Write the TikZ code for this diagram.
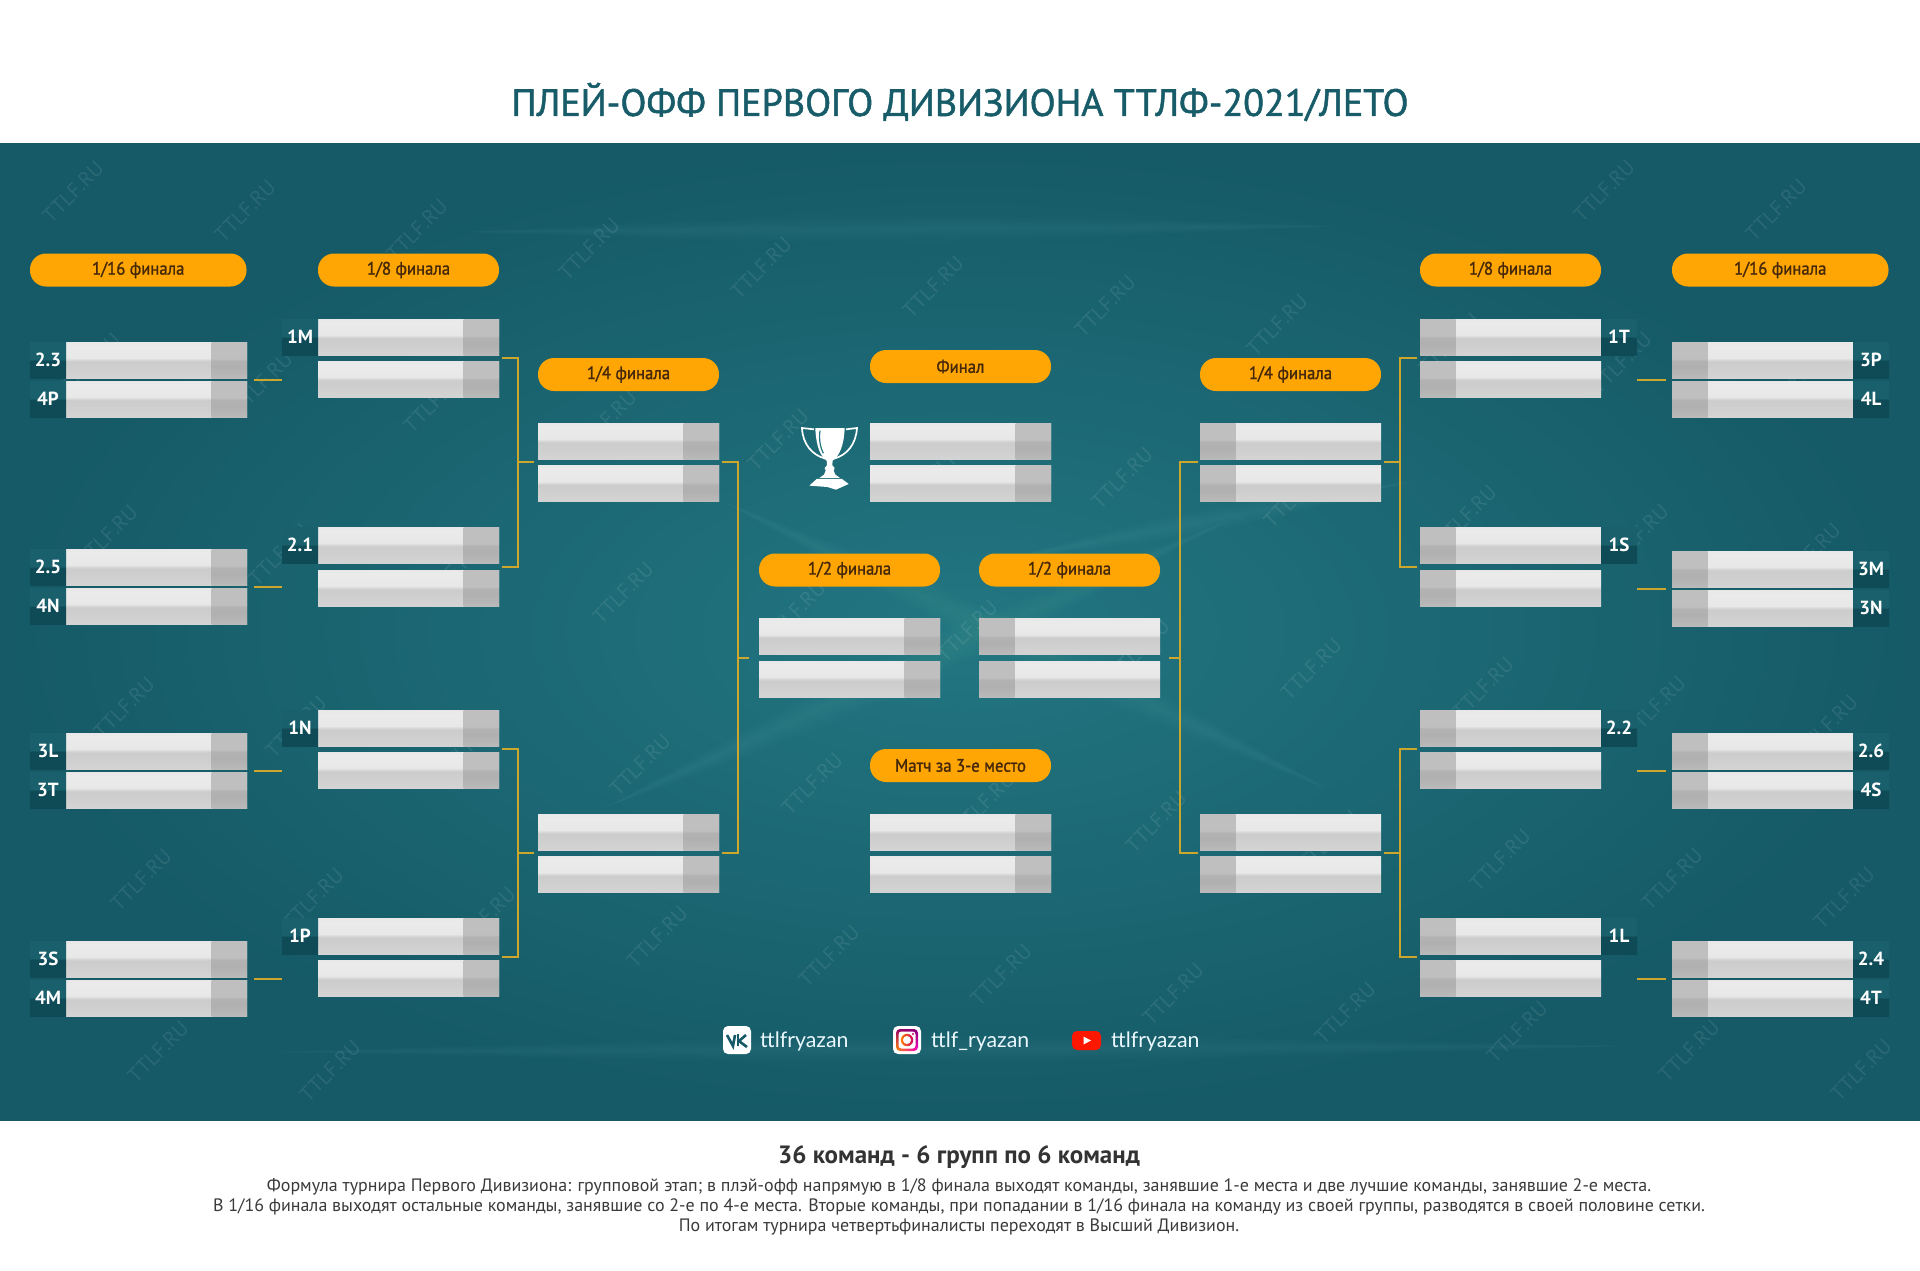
\documentclass[tikz,border=0pt]{standalone}
\usepackage{fontspec}
\setmainfont{PT Sans}
\newfontfamily\lato{Lato}
\newfontfamily\medfont[FakeBold=1.3]{PT Sans}
\newfontfamily\pillfont[FakeBold=1.3,FakeStretch=0.93]{PT Sans}
\usetikzlibrary{calc,shadings}
\definecolor{bandedge}{HTML}{155A66}
\definecolor{bandmid}{HTML}{227682}
\definecolor{titlecol}{HTML}{175C68}
\definecolor{pillcol}{HTML}{FFA504}
\definecolor{pilltext}{HTML}{45280A}
\definecolor{linkcol}{HTML}{CDA62C}
\definecolor{bodytext}{HTML}{3A3A3A}
\pgfdeclareverticalshading{teamshade}{100bp}{color(0bp)=(black!17); color(25bp)=(black!17); color(40bp)=(black!19); color(48bp)=(black!20); color(53bp)=(black!9); color(70bp)=(black!8); color(75bp)=(black!9); color(100bp)=(black!9)}
\pgfdeclareverticalshading{scoreshade}{100bp}{color(0bp)=(black!27); color(25bp)=(black!27); color(40bp)=(black!31); color(49bp)=(black!30); color(52bp)=(black!25); color(75bp)=(black!25); color(100bp)=(black!25)}
\definecolor{tagtop}{HTML}{1A606C}
\definecolor{tagbot}{HTML}{0E4B57}
\pgfdeclareverticalshading{tagshade}{100bp}{color(0bp)=(tagbot); color(49.5bp)=(tagbot); color(50.5bp)=(tagtop); color(100bp)=(tagtop)}
\tikzset{
  x=1pt,y=-1pt,
  teambox/.style={anchor=north west,inner sep=0pt,outer sep=0pt,minimum width=181pt,minimum height=36pt,shading=teamshade},
  scorebox/.style={inner sep=0pt,outer sep=0pt,minimum width=35.5pt,minimum height=36pt,shading=scoreshade},
  tagbox/.style={inner sep=0pt,outer sep=0pt,minimum width=36pt,minimum height=36pt,shading=tagshade,text=white,font=\fontsize{19}{22}\selectfont\bfseries},
  pill/.style={anchor=north west,inner sep=0pt,outer sep=0pt,minimum width=181pt,minimum height=33pt,fill=pillcol,rounded corners=16pt,text=pilltext,font=\pillfont\fontsize{18}{20}\selectfont},
  pillwide/.style={pill,minimum width=216.5pt},
  link/.style={draw=linkcol,line width=2pt},
  watermark/.style={text=white,opacity=.09,rotate=45,font=\fontsize{21}{24}\selectfont},
  social/.style={anchor=base west,inner sep=0pt,text=white!92!cyan,font=\lato\fontsize{21.3}{26}\selectfont},
  bodyline/.style={inner sep=0pt,text=bodytext,font=\fontsize{17.95}{20}\selectfont},
}
% pair of result boxes with the score cell on the right
\newcommand\pairL[4]{%
  \node[teambox] (#1a) at (#2,#3) {};
  \node[teambox] (#1b) at (#2,#4) {};
  \node[scorebox,anchor=north east] (#1as) at (#1a.north east) {};
  \node[scorebox,anchor=north east] (#1bs) at (#1b.north east) {};
  \coordinate (#1r) at ($(#1a.south east)!.5!(#1b.north east)$);
  \coordinate (#1l) at ($(#1a.south west)!.5!(#1b.north west)$);
}
% pair of result boxes with the score cell on the left
\newcommand\pairR[4]{%
  \node[teambox] (#1a) at (#2,#3) {};
  \node[teambox] (#1b) at (#2,#4) {};
  \node[scorebox,anchor=north west] (#1as) at (#1a.north west) {};
  \node[scorebox,anchor=north west] (#1bs) at (#1b.north west) {};
  \coordinate (#1r) at ($(#1a.south east)!.5!(#1b.north east)$);
  \coordinate (#1l) at ($(#1a.south west)!.5!(#1b.north west)$);
}
\newcommand\tagL[3]{\node[tagbox,anchor=north east] (#1) at (#2.north west) {#3};}
\newcommand\tagR[3]{\node[tagbox,anchor=north west] (#1) at (#2.north east) {#3};}
\newcommand\streak[5]{%
  \pgfmathsetmacro\mx{(#1+#3)/2}\pgfmathsetmacro\my{(#2+#4)/2}
  \foreach \k in {1,...,7}{
    \pgfmathsetmacro\bb{#5*\k/7}
    \fill[white,opacity=.007] (#1,#2) .. controls (\mx,\my-\bb) .. (#3,#4) .. controls (\mx,\my+\bb) .. (#1,#2);
  }
}
\begin{document}
\begin{tikzpicture}
\useasboundingbox (0,0) rectangle (1920,1270);
\fill[white] (0,0) rectangle (1920,1270);
% band
\shade[outer color=bandedge,inner color=bandmid] (0,143) rectangle (1920,1120);
\streak{450}{232}{1350}{226}{18}
\streak{250}{1052}{1650}{1046}{18}
\streak{720}{500}{1330}{790}{30}
\streak{600}{810}{1230}{520}{30}
\streak{1000}{560}{1420}{480}{16}
\foreach \i in {-2,...,11}{
  \foreach \j in {-5,...,2}{
    \pgfmathsetmacro\wx{141+\i*172+\j*17}
    \pgfmathsetmacro\wy{880+\i*19+\j*172}
    \pgfmathparse{and(and(\wx>45,\wx<1880),and(\wy>180,\wy<1085))}
    \ifnum\pgfmathresult=1
      \node[watermark] (w\i x\j) at (\wx,\wy) {TTLF.RU};
    \fi
  }
}
% title
\node[inner sep=0pt,text=titlecol,font=\medfont\fontsize{38.1}{46}\selectfont] (title) at (960,102) {ПЛЕЙ-ОФФ ПЕРВОГО ДИВИЗИОНА ТТЛФ-2021/ЛЕТО};
% pills
\node[pillwide] (p16l) at (30,253.5) {1/16 финала};
\node[pill] (p8l) at (318,253.5) {1/8 финала};
\node[pill] (p4l) at (538,358) {1/4 финала};
\node[pill] (pf) at (870,350) {Финал};
\node[pill] (p2l) at (759,553.5) {1/2 финала};
\node[pill] (p2r) at (979,553.5) {1/2 финала};
\node[pill] (p3) at (870,749) {Матч за 3-е место};
\node[pill] (p4r) at (1200,358) {1/4 финала};
\node[pill] (p8r) at (1420,253.5) {1/8 финала};
\node[pillwide] (p16r) at (1672,253.5) {1/16 финала};
% left half
\pairL{A1}{66}{342}{381}
\pairL{A2}{66}{549}{588}
\pairL{A3}{66}{733}{772}
\pairL{A4}{66}{941}{980}
\pairL{B1}{318}{319}{361}
\pairL{B2}{318}{527}{570}
\pairL{B3}{318}{710}{752}
\pairL{B4}{318}{918}{960}
\pairL{Q1}{538}{423}{465.5}
\pairL{Q2}{538}{814}{856.5}
\pairL{S1}{759}{618.5}{661}
% centre
\pairL{F}{870}{423}{465.5}
\pairL{T}{870}{814}{856.5}
% right half
\pairR{S2}{979}{618.5}{661}
\pairR{Q3}{1200}{423}{465.5}
\pairR{Q4}{1200}{814}{856.5}
\pairR{C1}{1420}{319}{361}
\pairR{C2}{1420}{527}{570}
\pairR{C3}{1420}{710}{752}
\pairR{C4}{1420}{918}{960}
\pairR{D1}{1672}{342}{381}
\pairR{D2}{1672}{551}{590}
\pairR{D3}{1672}{733}{772}
\pairR{D4}{1672}{941}{980}
% tags
\tagL{t23}{A1a}{2.3}\tagL{t4P}{A1b}{4P}
\tagL{t25}{A2a}{2.5}\tagL{t4N}{A2b}{4N}
\tagL{t3L}{A3a}{3L}\tagL{t3T}{A3b}{3T}
\tagL{t3S}{A4a}{3S}\tagL{t4M}{A4b}{4M}
\tagL{t1M}{B1a}{1M}\tagL{t21}{B2a}{2.1}
\tagL{t1N}{B3a}{1N}\tagL{t1P}{B4a}{1P}
\tagR{t1T}{C1a}{1T}\tagR{t1S}{C2a}{1S}
\tagR{t22}{C3a}{2.2}\tagR{t1L}{C4a}{1L}
\tagR{t3P}{D1a}{3P}\tagR{t4L}{D1b}{4L}
\tagR{t3M}{D2a}{3M}\tagR{t3N}{D2b}{3N}
\tagR{t26}{D3a}{2.6}\tagR{t4S}{D3b}{4S}
\tagR{t24}{D4a}{2.4}\tagR{t4T}{D4b}{4T}
% short links between the 1/16 and 1/8 columns
\foreach \m/\n in {A1/B1,A2/B2,A3/B3,A4/B4}{
  \draw[link] ([xshift=7pt]\m r) -- ([xshift=-36pt]\n b.west |- \m r);
}
\foreach \m/\n in {D1/C1,D2/C2,D3/C3,D4/C4}{
  \draw[link] ([xshift=-6pt]\m l) -- ([xshift=36pt]\n b.east |- \m l);
}
% brackets, left
\draw[link] ([xshift=3pt]B1r) -| ([xshift=-20pt]Q1l) |- ([xshift=3pt]B2r);
\draw[link] ([xshift=-20pt]Q1l) -- ([xshift=-4pt]Q1l);
\draw[link] ([xshift=3pt]B3r) -| ([xshift=-20pt]Q2l) |- ([xshift=3pt]B4r);
\draw[link] ([xshift=-20pt]Q2l) -- ([xshift=-4pt]Q2l);
\draw[link] ([xshift=3pt]Q1r) -| ([xshift=-21pt]S1l) |- ([xshift=3pt]Q2r);
\draw[link] ([xshift=-21pt]S1l) -- ([xshift=-10pt]S1l);
% brackets, right
\draw[link] ([xshift=-3pt]C1l) -| ([xshift=19pt]Q3r) |- ([xshift=-3pt]C2l);
\draw[link] ([xshift=19pt]Q3r) -- ([xshift=3pt]Q3r);
\draw[link] ([xshift=-3pt]C3l) -| ([xshift=19pt]Q4r) |- ([xshift=-3pt]C4l);
\draw[link] ([xshift=19pt]Q4r) -- ([xshift=3pt]Q4r);
\draw[link] ([xshift=-2pt]Q3l) -| ([xshift=20pt]S2r) |- ([xshift=-2pt]Q4l);
\draw[link] ([xshift=20pt]S2r) -- ([xshift=9pt]S2r);
% trophy
\begin{scope}[shift={(740,340)},x=.3333pt,y=-.3333pt]
  \fill[white] (226,264) -- (314,264) .. controls (312,320) and (296,350) .. (278,362) -- (260,362) .. controls (242,350) and (228,320) .. (226,264) -- cycle;
  \draw[bandmid,line width=1.2pt] (240,272) .. controls (236,300) and (242,325) .. (250,340);
  \draw[white,line width=1.7pt] (222,268) -- (186,264) .. controls (188,312) and (216,345) .. (256,356);
  \draw[white,line width=1.7pt] (318,268) -- (351,264) .. controls (348,312) and (322,345) .. (282,356);
  \fill[white] (260,360) -- (278,360) -- (277,376) -- (284,384) -- (281,392) -- (286,404) -- (300,414) -- (238,414) -- (252,404) -- (257,392) -- (254,384) -- (261,376) -- cycle;
  \fill[white] (230,417) -- (306,417) -- (326,432) -- (288,449) -- (262,441) -- (208,437) -- cycle;
\end{scope}
% social row
\fill[white,rounded corners=5pt] (723,1026) rectangle (751,1054);
\draw[bandedge,line width=2.6pt] (727,1035) -- (733,1046) -- (735,1035);
\draw[bandedge,line width=2.6pt] (738,1034) -- (738,1046);
\draw[bandedge,line width=2.6pt] (746,1035) -- (739,1041) -- (747,1047);
\node[social] (sn1) at (760,1047.5) {ttlfryazan};
\fill[white,rounded corners=5pt] (893,1026) rectangle (921,1054);
\shade[lower left=orange!90!yellow,upper left=purple!80!blue,upper right=purple!70!blue,lower right=magenta!80!red,rounded corners=4pt] (896,1029) rectangle (918,1051);
\fill[white,rounded corners=3pt] (898.5,1031.5) rectangle (915.5,1048.5);
\shade[left color=orange,right color=purple!80!magenta] (907,1040) circle (6.2);
\fill[white] (907,1040) circle (4);
\fill[purple!80!magenta] (913,1034) circle (1.1);
\node[social] (sn2) at (931,1047.5) {ttlf\_ryazan};
\fill[red!82!orange,rounded corners=5pt] (1072,1031) rectangle (1101,1050);
\fill[white] (1083.5,1036.5) -- (1091,1040.5) -- (1083.5,1044.5) -- cycle;
\node[social] (sn3) at (1111,1047.5) {ttlfryazan};
% footer
\node[inner sep=0pt,text=black!80,font=\fontsize{25}{28}\selectfont\bfseries] (head) at (959,1157) {36 команд - 6 групп по 6 команд};
\node[bodyline] (l1) at (959,1187) {Формула турнира Первого Дивизиона: групповой этап; в плэй-офф напрямую в 1/8 финала выходят команды, занявшие 1-е места и две лучшие команды, занявшие 2-е места.};
\node[bodyline] (l2) at (959,1207) {В 1/16 финала выходят остальные команды, занявшие со 2-е по 4-е места. Вторые команды, при попадании в 1/16 финала на команду из своей группы, разводятся в своей половине сетки.};
\node[bodyline] (l3) at (959,1227) {По итогам турнира четвертьфиналисты переходят в Высший Дивизион.};
\end{tikzpicture}
\end{document}
